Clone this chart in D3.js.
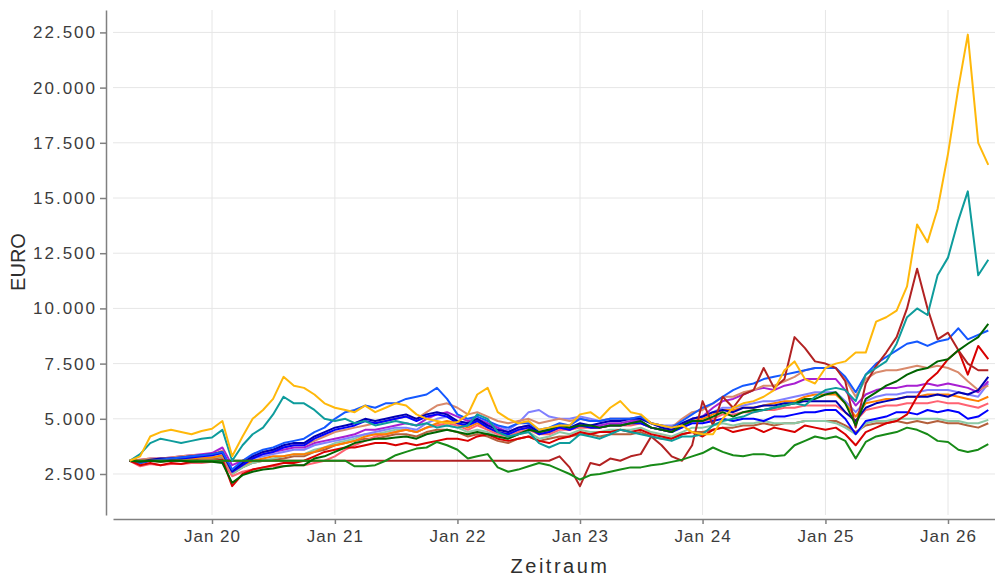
<!DOCTYPE html>
<html>
<head>
<meta charset="utf-8">
<script src="https://cdn.jsdelivr.net/npm/d3@7"></script>
<style>
body { margin: 0; background: #fff; }
text { font-family: "Liberation Sans", Arial, sans-serif; }
</style>
</head>
<body>
<script>
var width = 995, height = 578;

// monatswerte, erster wert = Mai 2019, letzter = Mai 2026
var firstMonth = new Date(2019, 4, 1);
var lastMonth = new Date(2026, 4, 1);

var yTicks = [2500, 5000, 7500, 10000, 12500, 15000, 17500, 20000, 22500];
var xTicks = [new Date(2020, 0, 1), new Date(2021, 0, 1), new Date(2022, 0, 1), new Date(2023, 0, 1),
              new Date(2024, 0, 1), new Date(2025, 0, 1), new Date(2026, 0, 1)];

var sienna = [3100, 3050, 3100, 3050, 3100, 3100, 3150, 3200,
  3200, 3250, 2500, 2800, 3000, 3100, 3150, 3200, 3300, 3300, 3500, 3600,
  3800, 3900, 4000, 4100, 4100, 4200, 4300, 4300, 4200, 4400, 4500, 4500,
  4400, 4200, 4300, 4200, 4000, 3900, 4100, 4200, 4000, 4100, 4200, 4200,
  4300, 4300, 4200, 4300, 4300, 4300, 4400, 4200, 4100, 4100, 4300, 4400,
  4400, 4500, 4600, 4600, 4700, 4700, 4800, 4700, 4800, 4800, 4900, 4900,
  4900, 4900, 4700, 4400, 4700, 4800, 4800, 4900, 4800, 4900, 4800, 4900,
  4800, 4800, 4700, 4600, 4800];

var seaGreen = [3100, 3050, 3100, 3100, 3150, 3150, 3200, 3250,
  3250, 3300, 2500, 2800, 3000, 3100, 3200, 3300, 3400, 3400, 3600, 3700,
  3900, 4000, 4100, 4300, 4300, 4400, 4500, 4500, 4400, 4600, 4700, 4700,
  4600, 4400, 4500, 4400, 4200, 4100, 4300, 4400, 4100, 4200, 4400, 4300,
  4500, 4400, 4400, 4500, 4500, 4500, 4600, 4400, 4300, 4200, 4400, 4600,
  4600, 4700, 4800, 4700, 4800, 4800, 4900, 4800, 4800, 4800, 4900, 4900,
  4900, 4800, 4600, 4300, 4800, 4900, 4900, 5000, 5000, 5000, 5000, 5000,
  4900, 4900, 4800, 4800, 4950];

var pink = [3100, 2850, 2950, 2900, 2950, 2950, 3000, 3000,
  3050, 3100, 2400, 2600, 2700, 2800, 2850, 2850, 2900, 2900, 3000, 3100,
  3300, 3600, 3800, 4000, 4200, 4300, 4400, 4500, 4400, 4600, 4700, 4800,
  4700, 4500, 4700, 4500, 4300, 4200, 4400, 4500, 4300, 4300, 4500, 4500,
  4600, 4600, 4600, 4700, 4700, 4700, 4800, 4600, 4500, 4500, 4700, 4900,
  4900, 5000, 5200, 5200, 5300, 5300, 5400, 5400, 5500, 5500, 5600, 5600,
  5600, 5600, 5300, 4900, 5400, 5500, 5600, 5600, 5700, 5700, 5700, 5800,
  5700, 5700, 5600, 5500, 5700];

var orange = [3100, 3100, 3150, 3100, 3150, 3200, 3200, 3250,
  3250, 3350, 2600, 2900, 3100, 3200, 3300, 3300, 3400, 3400, 3500, 3700,
  3800, 3900, 4000, 4200, 4300, 4300, 4400, 4500, 4400, 4600, 4800, 4900,
  4800, 4600, 4800, 4600, 4400, 4300, 4500, 4600, 4300, 4400, 4600, 4500,
  4700, 4600, 4600, 4700, 4700, 4800, 4800, 4600, 4500, 4400, 4700, 4900,
  5000, 5200, 5400, 5400, 5500, 5500, 5600, 5700, 5800, 5800, 6000, 6100,
  6100, 6100, 5700, 5100, 5700, 5800, 5900, 5900, 6000, 6000, 6100, 6100,
  6100, 6000, 5900, 5800, 6000];

var slateBlue = [3100, 3100, 3150, 3200, 3200, 3250, 3300, 3300,
  3350, 3500, 2700, 3000, 3200, 3300, 3400, 3500, 3600, 3600, 3800, 3900,
  4000, 4100, 4200, 4300, 4400, 4500, 4600, 4600, 4500, 4800, 5000, 5100,
  4900, 4800, 4900, 4700, 4700, 4500, 4800, 5300, 5400, 5100, 5000, 5000,
  5100, 5000, 4900, 5000, 5000, 5000, 5000, 4800, 4700, 4700, 4800, 5000,
  5100, 5300, 5500, 5500, 5600, 5700, 5800, 5800, 5900, 6000, 6100, 6200,
  6200, 6200, 5800, 5300, 5800, 6000, 6100, 6100, 6200, 6200, 6300, 6300,
  6300, 6200, 6100, 6000, 6600];

var purple = [3100, 3150, 3200, 3200, 3250, 3300, 3350, 3400,
  3450, 3700, 2900, 3100, 3300, 3400, 3500, 3600, 3700, 3700, 3900, 4000,
  4100, 4200, 4300, 4500, 4500, 4600, 4700, 4800, 4700, 5000, 5200, 5300,
  5100, 4900, 5000, 4800, 4600, 4400, 4600, 4700, 4400, 4500, 4600, 4500,
  4700, 4700, 4700, 4800, 4800, 4900, 4900, 4600, 4500, 4400, 4700, 5000,
  5100, 5500, 5800, 5900, 6100, 6300, 6400, 6300, 6500, 6600, 6800, 6800,
  6800, 6800, 6300, 5600, 6100, 6300, 6400, 6400, 6500, 6500, 6600, 6500,
  6600, 6500, 6400, 6200, 6700];

var salmon = [3100, 3150, 3200, 3200, 3250, 3300, 3350, 3350,
  3400, 3550, 2600, 3000, 3300, 3500, 3600, 3700, 3800, 3800, 4000, 4200,
  4400, 4500, 4600, 4700, 4800, 4900, 5000, 5100, 5000, 5300, 5600, 5700,
  5500, 5200, 5300, 5100, 4900, 4800, 4900, 5000, 4800, 4900, 5000, 4900,
  5000, 4900, 4900, 5000, 5000, 5000, 5100, 4800, 4700, 4600, 5000, 5300,
  5400, 5700, 6000, 6000, 6200, 6300, 6500, 6500, 6700, 6900, 7200, 7300,
  7300, 7300, 6800, 6000, 6800, 7100, 7200, 7200, 7300, 7400, 7300, 7400,
  7300, 7100, 6700, 6300, 6500];

var blue = [3100, 3000, 3100, 3150, 3200, 3200, 3250, 3300,
  3350, 3450, 2600, 2900, 3200, 3400, 3500, 3700, 3800, 3800, 4100, 4300,
  4500, 4600, 4700, 4900, 4800, 4900, 5000, 5100, 4900, 5100, 5200, 5100,
  4800, 4700, 4900, 4600, 4400, 4300, 4500, 4600, 4300, 4400, 4600, 4500,
  4700, 4600, 4600, 4700, 4700, 4800, 4800, 4600, 4500, 4400, 4600, 4800,
  4800, 4900, 5000, 4900, 5000, 5000, 4900, 5100, 5100, 5200, 5300, 5300,
  5400, 5400, 5000, 4300, 4900, 5000, 5100, 5300, 5300, 5200, 5400, 5300,
  5400, 5300, 5000, 5100, 5400];

var darkBlue = [3100, 3050, 3150, 3200, 3200, 3250, 3300, 3350,
  3400, 3500, 2650, 3000, 3300, 3500, 3600, 3800, 3900, 3900, 4200, 4400,
  4600, 4700, 4800, 5000, 4900, 5000, 5100, 5200, 5000, 5200, 5300, 5200,
  4900, 4800, 5000, 4700, 4500, 4400, 4600, 4700, 4400, 4500, 4700, 4600,
  4800, 4700, 4800, 4900, 4900, 5000, 5000, 4800, 4600, 4500, 4800, 5000,
  5100, 5300, 5400, 5300, 5500, 5500, 5600, 5600, 5700, 5700, 5800, 5800,
  5800, 5800, 5300, 4900, 5500, 5700, 5800, 5900, 6000, 6000, 6000, 6100,
  6000, 6200, 6100, 6300, 6900];

var brightBlue = [3100, 3000, 3100, 3150, 3200, 3250, 3300, 3350,
  3400, 3500, 2700, 3100, 3400, 3600, 3700, 3900, 4000, 4100, 4400, 4600,
  5000, 5300, 5400, 5600, 5500, 5700, 5700, 5900, 6000, 6100, 6400, 5900,
  5200, 5000, 5100, 4900, 4700, 4600, 4800, 4800, 4500, 4600, 4800, 4700,
  5000, 4900, 4900, 5000, 5000, 5000, 5100, 4800, 4700, 4600, 4900, 5200,
  5500, 5700, 6000, 6300, 6500, 6600, 6800, 6900, 7000, 7100, 7200, 7300,
  7300, 7300, 6900, 6200, 7000, 7500, 7800, 8100, 8400, 8500, 8300, 8500,
  8600, 9100, 8600, 8800, 9000];

var red = [3100, 2900, 3000, 2900, 3000, 2950, 3050, 3100,
  3100, 3150, 1950, 2500, 2700, 2800, 2900, 3000, 3000, 3100, 3300, 3500,
  3600, 3700, 3700, 3800, 3900, 3900, 3800, 3900, 3800, 3900, 4000, 4100,
  4100, 4000, 4200, 4300, 4100, 4000, 4100, 4200, 4000, 3900, 4100, 4200,
  4400, 4300, 4400, 4400, 4500, 4400, 4500, 4300, 4200, 4100, 4300, 4400,
  4200, 4500, 4600, 4400, 4500, 4600, 4400, 4600, 4500, 4400, 4700, 4600,
  4500, 4600, 4300, 3800, 4400, 4600, 4800, 4900, 5200, 6000, 6700, 7100,
  7700, 8100, 7000, 8300, 7700];

var firebrick = [3100, 3100, 3100, 3100, 3100, 3100, 3100, 3100,
  3100, 3100, 3100, 3100, 3100, 3100, 3100, 3100, 3100, 3100, 3100, 3100,
  3100, 3100, 3100, 3100, 3100, 3100, 3100, 3100, 3100, 3100, 3100, 3100,
  3100, 3100, 3100, 3100, 3100, 3100, 3100, 3100, 3100, 3100, 3300, 2800,
  1950, 3000, 2900, 3200, 3100, 3300, 3400, 4200, 3800, 3300, 3100, 3800,
  5800, 4700, 6000, 5500, 6100, 6300, 7300, 6400, 6800, 8700, 8200, 7600,
  7500, 7300, 6700, 4600, 6600, 7400, 8000, 8700, 10000, 11800, 10000, 8600,
  8900, 8100, 7500, 7200, 7200];

var forestGreen = [3100, 3100, 3100, 3100, 3100, 3100, 3100, 3100,
  3100, 3100, 3100, 3100, 3100, 3100, 3100, 3100, 3100, 3100, 3100, 3100,
  3100, 3100, 2850, 2850, 2900, 3100, 3350, 3500, 3650, 3700, 3950, 3800,
  3600, 3200, 3300, 3400, 2800, 2600, 2700, 2850, 3000, 2900, 2700, 2500,
  2250, 2450, 2500, 2600, 2700, 2800, 2800, 2900, 2950, 3050, 3150, 3300,
  3450, 3700, 3500, 3350, 3300, 3400, 3400, 3300, 3350, 3800, 4000, 4200,
  4100, 4200, 4000, 3200, 3950, 4200, 4300, 4400, 4600, 4500, 4300, 4000,
  3950, 3600, 3500, 3600, 3850];

var darkGreen = [3100, 3050, 3100, 3050, 3100, 3100, 3050, 3050,
  3050, 3000, 2100, 2450, 2600, 2700, 2750, 2850, 2900, 2900, 3200, 3300,
  3500, 3700, 3900, 4000, 4100, 4100, 4150, 4200, 4100, 4300, 4400, 4500,
  4400, 4300, 4400, 4300, 4200, 4100, 4300, 4500, 4400, 4500, 4700, 4600,
  4700, 4700, 4600, 4700, 4700, 4800, 4900, 4600, 4500, 4400, 4700, 4900,
  4900, 5100, 5300, 5100, 5300, 5400, 5400, 5500, 5600, 5700, 5900, 5900,
  6100, 6200, 5700, 4700, 5900, 6200, 6500, 6700, 7000, 7200, 7300, 7600,
  7700, 8100, 8400, 8700, 9300];

var teal = [3100, 3400, 3900, 4100, 4000, 3900, 4000, 4100,
  4150, 4500, 3100, 3800, 4300, 4600, 5200, 6000, 5700, 5700, 5400, 5000,
  4900, 5000, 4800, 4900, 4700, 4800, 4900, 4800, 4700, 4800, 4600, 4700,
  4600, 4700, 5200, 5000, 4400, 4200, 4300, 4400, 3900, 3700, 3900, 3900,
  4300, 4200, 4100, 4300, 4500, 4400, 4300, 4200, 4100, 4000, 4200, 4200,
  4300, 4700, 4900, 5000, 5100, 5300, 5400, 5500, 5600, 5700, 5600, 6000,
  6300, 6400, 6300, 5800, 7000, 7300, 7600, 8400, 9600, 10000, 9700, 11500,
  12300, 14000, 15300, 11500, 12200];

var gold = [3100, 3300, 4200, 4400, 4500, 4400, 4300, 4450,
  4550, 4900, 3300, 4200, 5000, 5400, 5900, 6900, 6500, 6400, 6100, 5700,
  5500, 5400, 5300, 5600, 5300, 5500, 5700, 5600, 5200, 5000, 4900, 4800,
  4850, 5200, 6100, 6400, 5300, 5000, 4800, 4900, 4500, 4600, 4700, 4700,
  5200, 5300, 5000, 5500, 5800, 5300, 5200, 4800, 4700, 4600, 4700, 4400,
  4300, 4300, 5000, 5500, 5700, 5800, 6000, 6300, 7200, 7600, 6800, 6600,
  7300, 7500, 7600, 8000, 8000, 9400, 9600, 9900, 11000, 13800, 13000, 14500,
  17000, 20000, 22400, 17500, 16500];

// reihenfolge = zeichenreihenfolge
var seriesList = [
  {values: sienna,      color: "#B4603C"},
  {values: seaGreen,    color: "#8CC9A6"},
  {values: pink,        color: "#FF6272"},
  {values: orange,      color: "#FF7F00"},
  {values: slateBlue,   color: "#8080FF"},
  {values: purple,      color: "#A81FD2"},
  {values: salmon,      color: "#D98A6C"},
  {values: blue,        color: "#0000FF"},
  {values: darkBlue,    color: "#0000B4"},
  {values: brightBlue,  color: "#1458FF"},
  {values: red,         color: "#D80000"},
  {values: firebrick,   color: "#B22222"},
  {values: forestGreen, color: "#178A17"},
  {values: darkGreen,   color: "#006400"},
  {values: teal,        color: "#0E9C9C"},
  {values: gold,        color: "#FFB80A"}
];

var months = d3.timeMonth.range(firstMonth, d3.timeMonth.offset(lastMonth, 1));

var de = d3.formatLocale({decimal: ",", thousands: ".", grouping: [3], currency: ["", " €"]});

// panel
var panelLeft = 113, panelRight = 995, panelTop = 10, panelBottom = 515;

var x = d3.scaleTime()
          .domain([xTicks[0], xTicks[xTicks.length - 1]])
          .range([212, 948]);
x.domain([x.invert(panelLeft), x.invert(panelRight)]).range([panelLeft, panelRight]);

var y = d3.scaleLinear()
          .domain([643, 23515])
          .range([panelBottom, panelTop]);

var svg = d3.select("body")
            .append("svg")
            .attr("width", width)
            .attr("height", height);

// gitter
svg.selectAll("line.hgrid")
   .data(yTicks)
   .enter()
   .append("line")
   .attr("x1", panelLeft).attr("x2", panelRight)
   .attr("y1", function(d) { return y(d); })
   .attr("y2", function(d) { return y(d); })
   .style("stroke", "#e6e6e6")
   .style("stroke-width", 1);

svg.selectAll("line.vgrid")
   .data(xTicks)
   .enter()
   .append("line")
   .attr("x1", function(d) { return x(d); })
   .attr("x2", function(d) { return x(d); })
   .attr("y1", panelTop).attr("y2", panelBottom)
   .style("stroke", "#e6e6e6")
   .style("stroke-width", 1);

// linien
var line = d3.line()
             .x(function(d, i) { return x(months[i]); })
             .y(function(d) { return y(d); });

svg.selectAll("path.fund")
   .data(seriesList)
   .enter()
   .append("path")
   .attr("class", "fund")
   .attr("d", function(d) { return line(d.values); })
   .style("fill", "none")
   .style("stroke", function(d) { return d.color; })
   .style("stroke-width", 2)
   .style("stroke-linejoin", "round");

// achsen
var yAxis = svg.append("g")
               .attr("transform", "translate(106,0)")
               .call(d3.axisLeft(y).tickValues(yTicks).tickFormat(de.format(",")).tickSize(6).tickSizeOuter(0).tickPadding(5));

var xAxis = svg.append("g")
               .attr("transform", "translate(0,519)")
               .call(d3.axisBottom(x).tickValues(xTicks).tickFormat(d3.timeFormat("%b %y")).tickSize(5).tickSizeOuter(0).tickPadding(6));

[yAxis, xAxis].forEach(function(g) {
  g.select(".domain").style("stroke", "#808080").style("stroke-width", 1.5);
  g.selectAll(".tick line").style("stroke", "#808080").style("stroke-width", 1.5);
  g.selectAll(".tick text")
   .style("fill", "#3c3c3c")
   .style("font-family", "'Liberation Sans', Arial, sans-serif");
});

yAxis.selectAll(".tick text").style("font-size", "17px").style("letter-spacing", "2px").attr("dx", "2px");
xAxis.selectAll(".tick text").style("font-size", "17px").style("letter-spacing", "1px");

svg.append("text")
   .attr("x", 560)
   .attr("y", 573)
   .attr("text-anchor", "middle")
   .style("font-size", "20px")
   .style("letter-spacing", "2.5px")
   .style("fill", "#2e2e2e")
   .text("Zeitraum");

svg.append("text")
   .attr("transform", "translate(25,262) rotate(-90)")
   .attr("text-anchor", "middle")
   .style("font-size", "20px")
   .style("fill", "#2e2e2e")
   .text("EURO");
</script>
</body>
</html>
